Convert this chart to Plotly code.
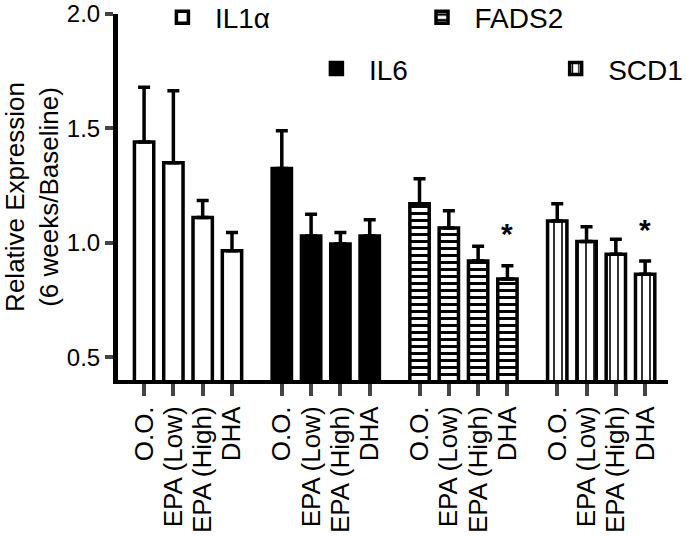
import plotly.graph_objects as go

categories = ["O.O.", "EPA (Low)", "EPA (High)", "DHA"]
genes = ["IL1α", "IL6", "FADS2", "SCD1"]

il1a_mean = [1.44, 1.35, 1.11, 0.965]
il1a_upper = [1.68, 1.665, 1.185, 1.045]
il6_mean = [1.325, 1.03, 0.995, 1.03]
il6_upper = [1.49, 1.125, 1.045, 1.10]
fads2_mean = [1.17, 1.065, 0.92, 0.842]
fads2_upper = [1.28, 1.14, 0.985, 0.90]
scd1_mean = [1.095, 1.005, 0.95, 0.862]
scd1_upper = [1.17, 1.07, 1.015, 0.92]

# significance markers: (gene index, category index)
significant = [(2, 3), (3, 3)]

y_ticks = [0.5, 1.0, 1.5, 2.0]
y_tick_labels = ["0.5", "1.0", "1.5", "2.0"]

means = [il1a_mean, il6_mean, fads2_mean, scd1_mean]
uppers = [il1a_upper, il6_upper, fads2_upper, scd1_upper]

GROUP_GAP = 0.7
FONT = "Liberation Sans, Arial, sans-serif"


def pos(g, i):
    return g * (len(categories) + GROUP_GAP) + i


styles = [
    dict(color="white", pattern=None),
    dict(color="black", pattern=None),
    dict(color="white", pattern=dict(shape="-", fgcolor="black", bgcolor="white", size=7, solidity=0.42, fillmode="replace")),
    dict(color="white", pattern=dict(shape="|", fgcolor="black", bgcolor="white", size=8, solidity=0.2, fillmode="replace")),
]
legend_ids = ["legend", "legend2", "legend3", "legend4"]
# legend placement (paper coords): IL1α, IL6, FADS2, SCD1
legend_xy = [(0.058, 0.99), (0.338, 0.85), (0.530, 0.99), (0.773, 0.85)]

fig = go.Figure()
for g, gene in enumerate(genes):
    xs = [pos(g, i) for i in range(len(categories))]
    plus = [u - m for u, m in zip(uppers[g], means[g])]
    marker = dict(color=styles[g]["color"], line=dict(color="black", width=3.5))
    if styles[g]["pattern"] is not None:
        marker["pattern"] = styles[g]["pattern"]
    fig.add_trace(go.Bar(
        x=xs, y=means[g], name=gene, width=0.66, marker=marker,
        error_y=dict(type="data", symmetric=False, array=plus,
                     arrayminus=[0] * len(plus), thickness=3.5, width=6, color="black"),
        legend=legend_ids[g],
    ))

for g, i in significant:
    fig.add_annotation(x=pos(g, i), y=uppers[g][i] + 0.14, text="<b>*</b>",
                       showarrow=False, font=dict(size=30, family=FONT, color="black"),
                       yanchor="middle", xanchor="center")

tickvals = [pos(g, i) for g in range(len(genes)) for i in range(len(categories))]
ticktext = [c for _ in genes for c in categories]

legend_common = dict(orientation="v", xanchor="left", yanchor="middle", itemwidth=55,
                     font=dict(size=28, family=FONT), bgcolor="rgba(0,0,0,0)")
legends = {}
for k, lid in enumerate(legend_ids):
    legends[lid] = dict(x=legend_xy[k][0], y=legend_xy[k][1], **legend_common)

fig.update_layout(
    width=687, height=536,
    margin=dict(l=118, r=19, t=14, b=156, autoexpand=False),
    paper_bgcolor="white", plot_bgcolor="white",
    font=dict(family=FONT, color="black", size=24),
    barmode="overlay",
    xaxis=dict(range=[-0.89, 17.88], tickvals=tickvals, ticktext=ticktext,
               tickangle=-90, ticks="outside", ticklen=12, tickwidth=4,
               showline=True, linewidth=4, linecolor="black", showgrid=False,
               zeroline=False, tickfont=dict(size=26, family=FONT)),
    yaxis=dict(range=[0.4, 2.0], tickvals=y_ticks, ticktext=y_tick_labels,
               ticks="outside", ticklen=8, tickwidth=4,
               showline=True, linewidth=5, linecolor="black", showgrid=False,
               zeroline=False, tickfont=dict(size=24, family=FONT),
               title=dict(text="Relative Expression<br>(6 weeks/Baseline)",
                          font=dict(size=26, family=FONT), standoff=10)),
    showlegend=True,
    **legends,
)

fig.write_html("out.html", config={"displayModeBar": False},
               post_script="document.body.style.margin='0';")
